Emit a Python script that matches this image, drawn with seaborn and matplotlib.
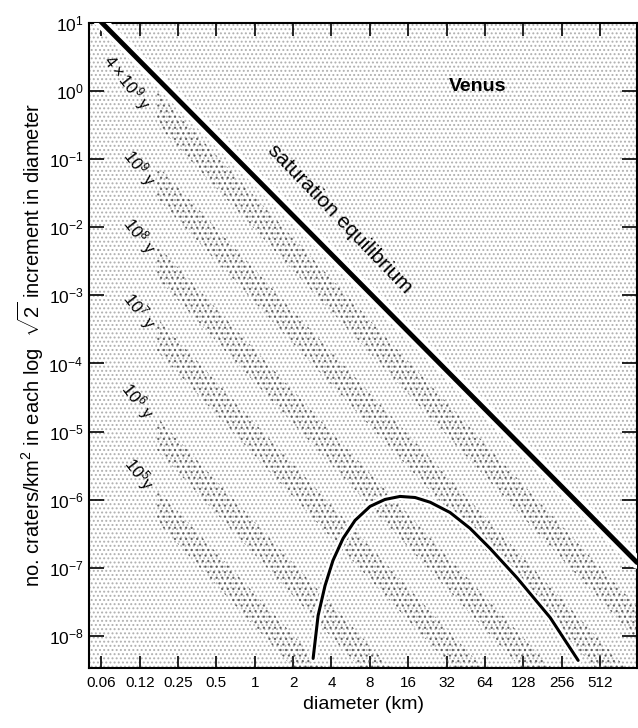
import matplotlib
matplotlib.use("Agg")
import matplotlib.pyplot as plt
import matplotlib.patheffects as pe
from matplotlib.patches import Rectangle
from matplotlib.ticker import FixedLocator, NullLocator
import seaborn as sns

# saturation equilibrium line (end points)
sat_d = [0.06, 1000]
sat_n = [11, 1.2e-7]

# isochron bands: centre line at the two end diameters
band_d = [0.17, 1000]
band_labels = [r"$4\times10^9$ y", r"$10^9$ y", r"$10^8$ y", r"$10^7$ y", r"$10^6$ y", r"$10^5$y"]
band_start_n = [0.565, 0.0479, 3.2e-3, 2.7e-4, 9.5e-6, 8.4e-7]
band_end_n = [1.55e-8, 1.31e-9, 8.8e-11, 7.4e-12, 2.6e-13, 2.3e-14]
label_d = [0.100, 0.124, 0.124, 0.124, 0.120, 0.124]
label_n = [1.32, 0.0753, 7.36e-3, 5.87e-4, 2.83e-5, 2.41e-6]

# observed Venus crater distribution
venus_d = [2.87, 3.14, 3.56, 4.11, 4.93, 6.12, 8.03, 10.5, 13.8, 18.1, 23.8,
           34.1, 49.0, 70.3, 114, 208, 345]
venus_n = [4.7e-9, 2.0e-8, 5.5e-8, 1.29e-7, 2.71e-7, 4.98e-7, 8.0e-7, 1.01e-6, 1.12e-6,
           1.08e-6, 9.2e-7, 6.5e-7, 3.8e-7, 1.93e-7, 7.2e-8, 1.87e-8, 4.4e-9]

xticks = [0.0625, 0.125, 0.25, 0.5, 1, 2, 4, 8, 16, 32, 64, 128, 256, 512]
xticklabels = ["0.06", "0.12", "0.25", "0.5", "1", "2", "4", "8", "16", "32", "64", "128", "256", "512"]
yexp = list(range(-8, 2))

sns.set_theme(style="ticks")
plt.rcParams["font.family"] = ["Liberation Sans", "DejaVu Sans"]
plt.rcParams["mathtext.fontset"] = "custom"
plt.rcParams["mathtext.rm"] = "Liberation Sans"
plt.rcParams["mathtext.it"] = "Liberation Sans:italic"
plt.rcParams["hatch.linewidth"] = 0.9
plt.rcParams["text.color"] = "black"
plt.rcParams["axes.labelcolor"] = "black"

fig = plt.figure(figsize=(6.38, 7.28), dpi=100)
ax = fig.add_axes([0.1395, 0.0824, 0.859, 0.8864])
ax.set_xscale("log")
ax.set_yscale("log")
ax.set_xlim(0.05, 1000)
ax.set_ylim(3.4e-9, 10)

# stippled grey background
ax.add_patch(Rectangle((0, 0), 1, 1, transform=ax.transAxes, facecolor="white",
                       edgecolor="#b0b0b0", hatch="....", lw=0, zorder=0))

# dotted isochron bands
w = 10 ** 0.24
for s, e in zip(band_start_n, band_end_n):
    ax.fill_between(band_d, [s / w, e / w], [s * w, e * w], facecolor="none",
                    edgecolor="#4a4a4a", hatch="...", lw=0, alpha=0.75, zorder=1)

halo = [pe.Stroke(linewidth=9, foreground="white"), pe.Normal()]
sns.lineplot(x=sat_d, y=sat_n, ax=ax, color="black", lw=3.5, zorder=3,
             path_effects=halo)
halo2 = [pe.Stroke(linewidth=5.5, foreground="white"), pe.Normal()]
sns.lineplot(x=venus_d, y=venus_n, ax=ax, color="black", lw=2.2, zorder=3, sort=False,
             path_effects=halo2)

ax.text(4.64, 0.013, "saturation equilibrium", rotation=-46, fontsize=15,
        ha="center", va="center", zorder=4)
ax.text(56, 1.16, "Venus", fontsize=14, fontweight="bold", ha="center", va="center")
for d, n, t in zip(label_d, label_n, band_labels):
    ax.text(d, n, t, rotation=-52, fontsize=12, ha="center", va="center", zorder=4)

ax.xaxis.set_major_locator(FixedLocator(xticks))
ax.xaxis.set_minor_locator(NullLocator())
ax.set_xticklabels(xticklabels)
ax.yaxis.set_major_locator(FixedLocator([10.0 ** k for k in yexp]))
ax.yaxis.set_minor_locator(NullLocator())
ax.set_yticklabels([rf"$10^{{{k}}}$" for k in yexp])

ax.tick_params(axis="x", which="major", direction="in", length=9, width=1.2,
               top=True, labelsize=11, pad=6, colors="black")
ax.tick_params(axis="y", which="major", direction="in", length=11, width=1.2,
               right=True, labelsize=12.5, pad=4, colors="black")
for sp in ax.spines.values():
    sp.set_linewidth(1.5)
    sp.set_color("black")

ax.set_xlabel("diameter (km)", fontsize=14, labelpad=4)
ax.set_ylabel(r"no. craters/km$^2$ in each log  $\sqrt{2}$ increment in diameter",
              fontsize=14.5, labelpad=2)

fig.savefig("out.png", dpi=100, facecolor="white")
